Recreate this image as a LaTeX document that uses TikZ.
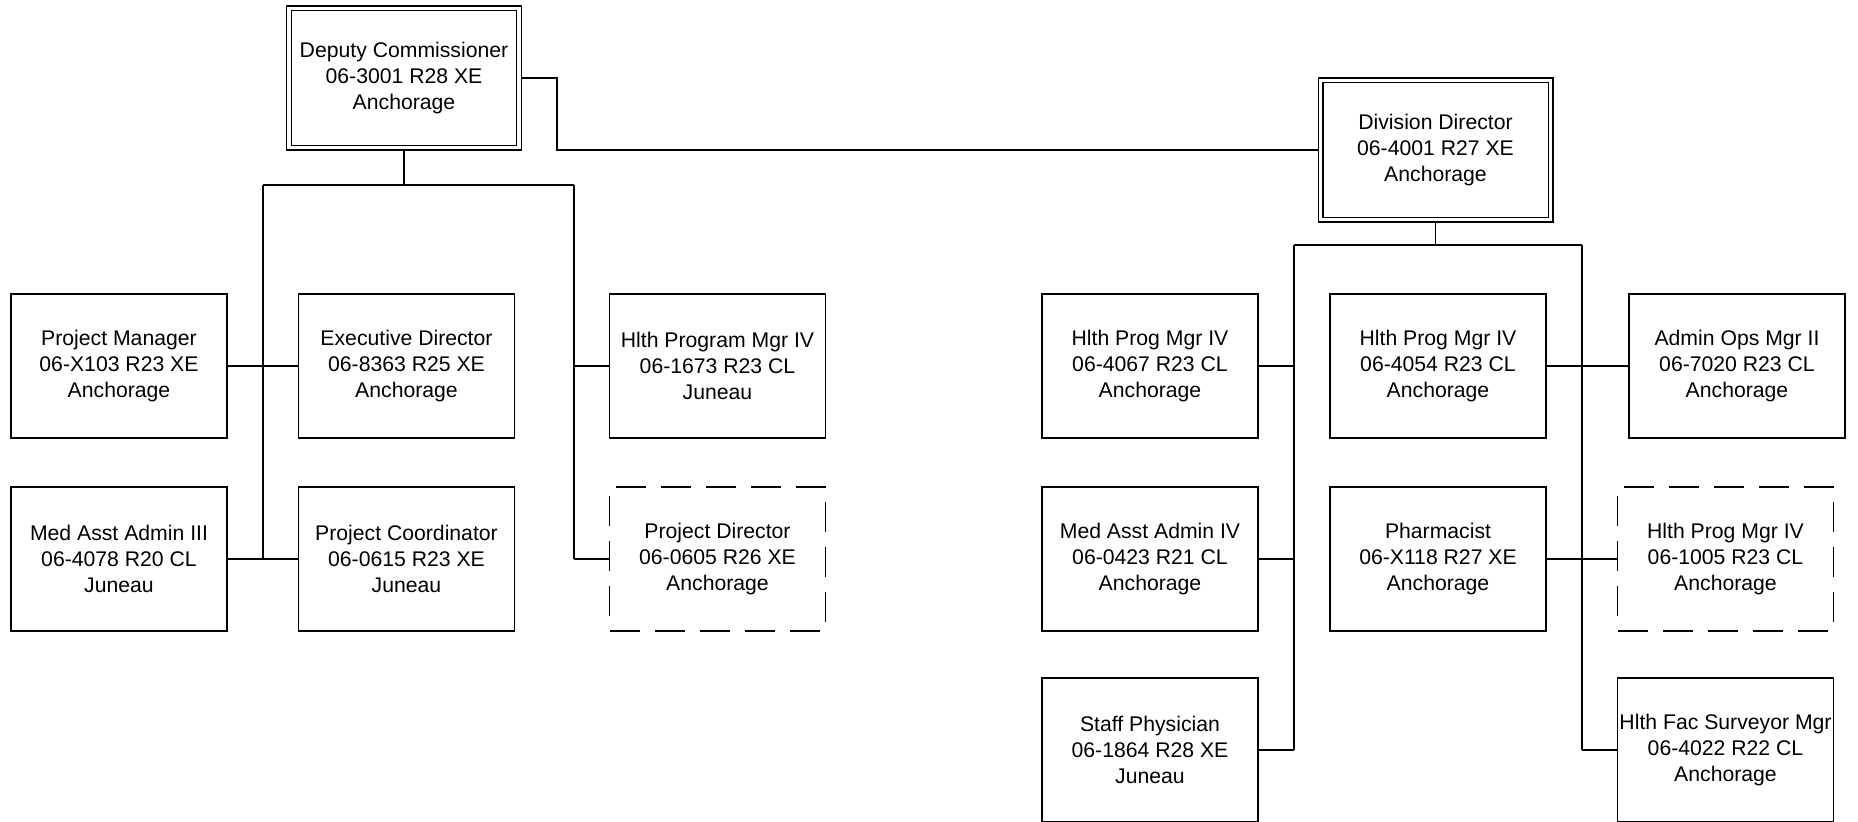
\documentclass[tikz,border=0pt]{standalone}
\usepackage{fontspec}
\setmainfont{Liberation Sans}
\usetikzlibrary{calc}
\definecolor{ink}{HTML}{000000}
\definecolor{paper}{HTML}{FFFFFF}
\tikzset{
  posbox/.style={draw=ink,fill=paper,line width=0.7pt,minimum width=108pt,minimum height=72pt,inner sep=1pt,align=center,font=\fontsize{10.6}{13}\selectfont},
  vacantbox/.style={posbox,dash pattern=on 15pt off 7.5pt},
  headbox/.style={posbox,double=paper,double distance=1.6pt,outer sep=1.5pt,minimum width=115pt,minimum height=69.7pt},
  link/.style={draw=ink,line width=0.7pt}
}

\begin{document}
\begin{tikzpicture}[x=0.5pt,y=-0.5pt]
  \useasboundingbox (0,0) rectangle (1858,821);
  % heads
  \node[headbox] (dep) at (404,78) {Deputy Commissioner\\06-3001 R28 XE\\Anchorage};
  \node[headbox] (div) at (1435.5,150) {Division Director\\06-4001 R27 XE\\Anchorage};
  % deputy commissioner reports
  \node[posbox] (pm) at (119,366) {Project Manager\\06-X103 R23 XE\\Anchorage};
  \node[posbox] (ed) at (406.5,366) {Executive Director\\06-8363 R25 XE\\Anchorage};
  \node[posbox] (hpm) at (717.5,366) {Hlth Program Mgr IV\\06-1673 R23 CL\\Juneau};
  \node[posbox] (maa) at (119,559) {Med Asst Admin III\\06-4078 R20 CL\\Juneau};
  \node[posbox] (pc) at (406.5,559) {Project Coordinator\\06-0615 R23 XE\\Juneau};
  \node[vacantbox] (pd) at (717.5,559) {Project Director\\06-0605 R26 XE\\Anchorage};
  % division director reports
  \node[posbox] (hp67) at (1150,366) {Hlth Prog Mgr IV\\06-4067 R23 CL\\Anchorage};
  \node[posbox] (hp54) at (1438,366) {Hlth Prog Mgr IV\\06-4054 R23 CL\\Anchorage};
  \node[posbox] (aom) at (1737,366) {Admin Ops Mgr II\\06-7020 R23 CL\\Anchorage};
  \node[posbox] (maa4) at (1150,559) {Med Asst Admin IV\\06-0423 R21 CL\\Anchorage};
  \node[posbox] (phar) at (1438,559) {Pharmacist\\06-X118 R27 XE\\Anchorage};
  \node[vacantbox] (hp05) at (1725.5,559) {Hlth Prog Mgr IV\\06-1005 R23 CL\\Anchorage};
  \node[posbox] (sp) at (1150,750) {Staff Physician\\06-1864 R28 XE\\Juneau};
  \node[posbox] (fs) at (1725.5,750) {Hlth Fac Surveyor Mgr\\06-4022 R22 CL\\Anchorage};

  \draw[link] (dep.east) -- ++(35,0) |- (div.west);

  \coordinate (lj) at (263,185);
  \coordinate (rj) at (574,185);
  \draw[link] (dep.south) -- (dep.south |- lj);
  \draw[link] (lj) -- (rj);
  \draw[link] (lj) -- (lj |- maa.east);
  \draw[link] (rj) -- (rj |- pd.west);
  \draw[link] (pm.east) -- (ed.west);
  \draw[link] (maa.east) -- (pc.west);
  \draw[link] (hpm.west) -- (hpm.west -| rj);
  \draw[link] (pd.west) -- (pd.west -| rj);

  \coordinate (la) at (1294,245);
  \coordinate (ra) at (1582,245);
  \draw[link] (div.south) -- (div.south |- la);
  \draw[link] (la) -- (ra);
  \draw[link] (la) -- (la |- sp.east);
  \draw[link] (ra) -- (ra |- fs.west);
  \draw[link] (hp67.east) -- (hp67.east -| la);
  \draw[link] (maa4.east) -- (maa4.east -| la);
  \draw[link] (sp.east) -- (sp.east -| la);
  \draw[link] (hp54.east) -- (aom.west);
  \draw[link] (phar.east) -- (hp05.west);
  \draw[link] (fs.west) -- (fs.west -| ra);
\end{tikzpicture}
\end{document}
